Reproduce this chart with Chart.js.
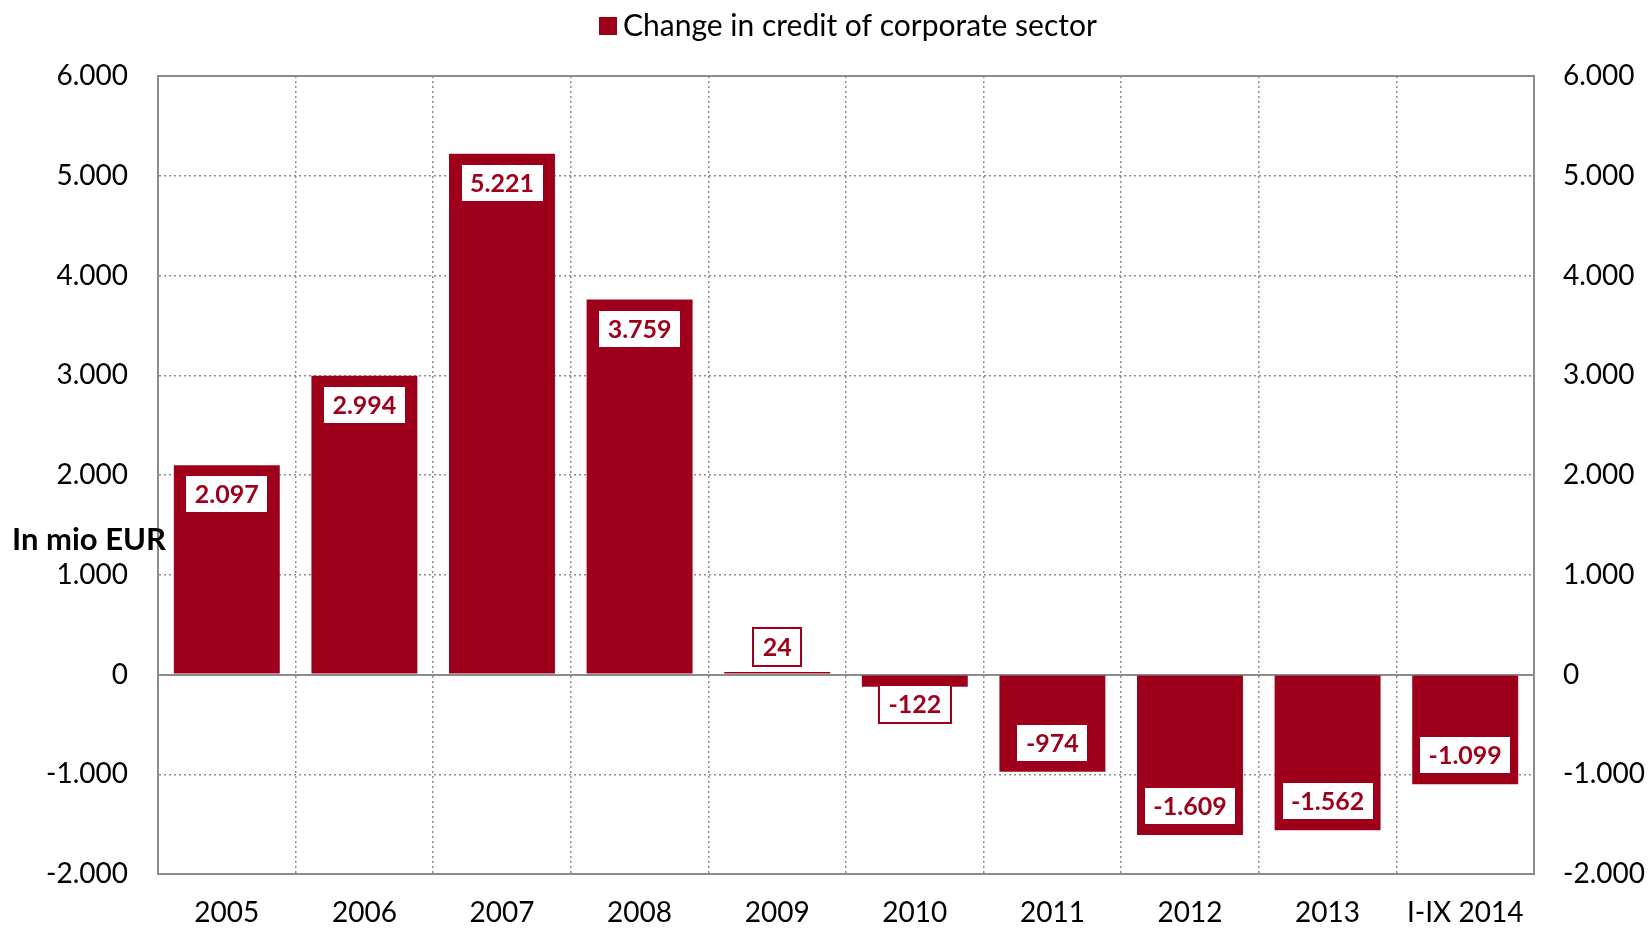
<!DOCTYPE html>
<html><head><meta charset="utf-8">
<script src="https://cdn.jsdelivr.net/npm/chart.js@4/dist/chart.umd.min.js"></script>
<style>html,body{margin:0;padding:0;background:#fff}#wrap{width:1650px;height:930px}</style>
</head><body><div id="wrap"><canvas id="c" width="1650" height="930"></canvas></div>
<script>
const categories = ['2005', '2006', '2007', '2008', '2009', '2010', '2011', '2012', '2013', 'I-IX 2014'];
const creditChange = [2097, 2994, 5221, 3759, 24, -122, -974, -1609, -1562, -1099];
const seriesName = 'Change in credit of corporate sector';
const axisTitle = 'In mio EUR';
const yMin = -2000, yMax = 6000, yStep = 1000;

const BAR = '#9E001C', GRID = '#8c8c8c';
const FONT = 'Lato, "Open Sans", sans-serif';

function fmt(v) {
  const s = Math.abs(Math.round(v)).toString().replace(/\B(?=(\d{3})+(?!\d))/g, '.');
  return (v < 0 ? '-' : '') + s;
}
const isSolid = c => c.tick && (c.tick.value === 0 || c.tick.value === yMax);

const deco = {
  id: 'deco',
  afterDatasetsDraw(chart) {
    const ctx = chart.ctx;
    const meta = chart.getDatasetMeta(0);
    const data = chart.data.datasets[0].data;
    ctx.save();
    ctx.font = 'bold 25px ' + FONT;
    meta.data.forEach((bar, i) => {
      const v = data[i];
      const txt = fmt(v);
      const tw = ctx.measureText(txt).width;
      const w = Math.round(tw + 21), h = 40;
      const len = Math.abs(bar.base - bar.y);
      let top;
      if (v >= 0) top = len > h + 18 ? bar.y + 9 : bar.y - 5 - h;
      else top = len > h + 18 ? bar.y - 9 - h : bar.y - 3;
      const left = Math.round(bar.x - w / 2);
      top = Math.round(top);
      ctx.fillStyle = '#fff';
      ctx.fillRect(left, top, w, h);
      ctx.strokeStyle = BAR; ctx.lineWidth = 2;
      ctx.strokeRect(left + 1, top + 1, w - 2, h - 2);
      ctx.fillStyle = BAR; ctx.textAlign = 'center'; ctx.textBaseline = 'middle';
      ctx.fillText(txt, bar.x, top + h / 2 + 1);
    });
    ctx.restore();
  },
  afterDraw(chart) {
    const ctx = chart.ctx;
    ctx.save();
    // legend
    const ds = chart.data.datasets[0];
    ctx.font = '30px ' + FONT;
    const tw = ctx.measureText(ds.label).width;
    const total = 18 + 6 + tw;
    const x0 = Math.round(848 - total / 2);
    ctx.fillStyle = ds.backgroundColor;
    ctx.fillRect(x0, 17, 18, 18);
    ctx.fillStyle = '#000'; ctx.textAlign = 'left'; ctx.textBaseline = 'middle';
    ctx.fillText(ds.label, x0 + 24, 26);
    // axis title
    ctx.font = 'bold 31px ' + FONT;
    ctx.fillText(axisTitle, 12, 540);
    ctx.restore();
  }
};

const tickFont = { size: 28, family: FONT };

new Chart(document.getElementById('c'), {
  type: 'bar',
  data: {
    labels: categories,
    datasets: [{
      label: seriesName,
      data: creditChange,
      backgroundColor: BAR,
      barPercentage: 0.77,
      categoryPercentage: 1.0,
      yAxisID: 'y'
    }]
  },
  options: {
    responsive: false,
    animation: false,
    layout: { padding: { top: 76, left: 0, right: 0, bottom: 0 } },
    plugins: { legend: { display: false }, tooltip: { enabled: false } },
    scales: {
      x: {
        offset: true,
        grid: { offset: true, color: GRID, lineWidth: 1.5, drawTicks: false },
        border: { color: GRID, width: 2, dash: [2, 3] },
        ticks: { padding: 22, color: '#000', font: tickFont, maxRotation: 0, autoSkip: false },
        afterFit: s => { s.height = 56; }
      },
      y: {
        type: 'linear', position: 'left', min: yMin, max: yMax,
        ticks: { stepSize: yStep, padding: 30, color: '#000', font: tickFont, callback: v => fmt(v) },
        grid: { color: GRID, lineWidth: c => isSolid(c) ? 2 : 1.5, drawTicks: false },
        border: { color: GRID, width: 2, dash: c => isSolid(c) ? [] : [2, 3] },
        afterFit: s => { s.width = 158; }
      },
      y2: {
        type: 'linear', position: 'right', min: yMin, max: yMax,
        ticks: { stepSize: yStep, padding: 29, color: '#000', font: tickFont, callback: v => fmt(v) },
        grid: { display: false, drawTicks: false },
        border: { color: GRID, width: 2 },
        afterFit: s => { s.width = 116; }
      }
    }
  },
  plugins: [deco]
});
</script>
</body></html>
